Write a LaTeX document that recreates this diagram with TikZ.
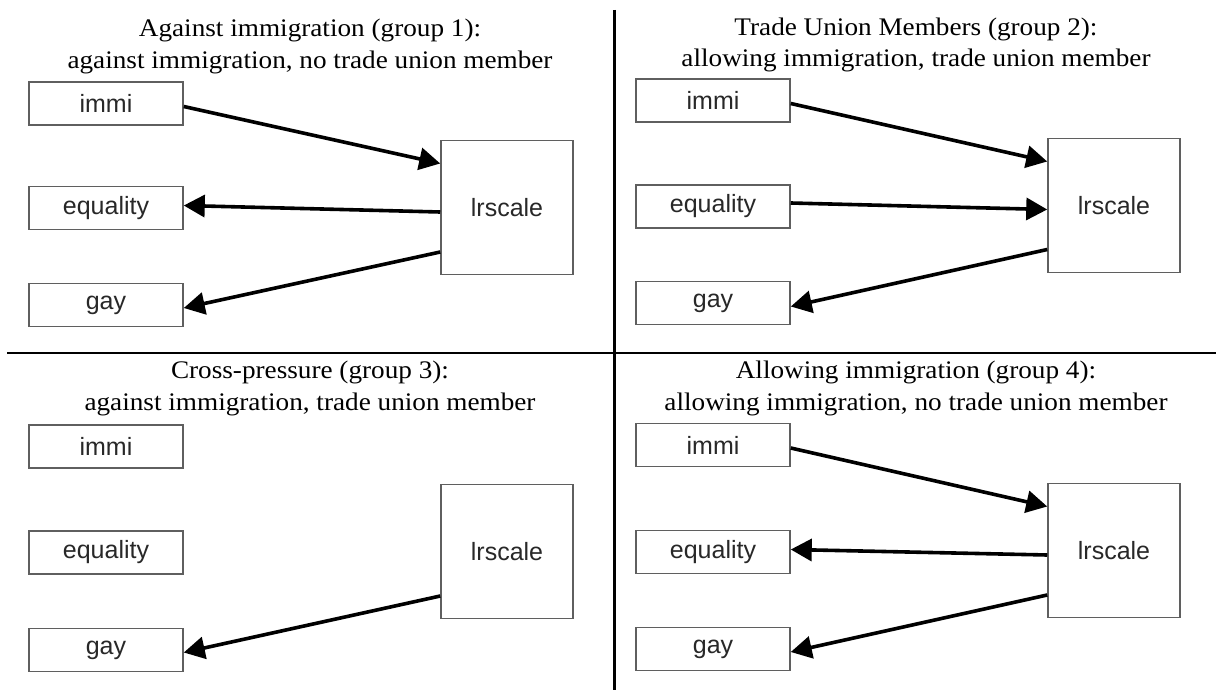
\documentclass[tikz,border=0pt]{standalone}
\usepackage{fontspec}
\setmainfont{Liberation Serif}
\newfontfamily\arialfont{Liberation Sans}
\usetikzlibrary{arrows.meta}
\definecolor{boxline}{RGB}{95,95,95}
\definecolor{boxtext}{RGB}{40,40,40}
\tikzset{
  vbox/.style={draw=boxline, line width=1.5pt, fill=white, minimum width=154pt, minimum height=43pt, inner sep=0pt, font=\arialfont\fontsize{25}{28}\selectfont, text=boxtext},
  lrbox/.style={draw=boxline, line width=1.5pt, fill=white, minimum width=132pt, minimum height=134pt, inner sep=0pt, font=\arialfont\fontsize{25}{28}\selectfont, text=boxtext},
  ttl/.style={anchor=base, inner sep=0pt, xscale=1.075, transform shape, font=\fontsize{25.3}{30}\selectfont},
  arr/.style={line width=3.6pt, -{Triangle[length=21pt,width=22pt]}},
  divider/.style={line width=2.4pt, black}
}
\begin{document}
\begin{tikzpicture}[x=1pt,y=-1pt]
\useasboundingbox (0,0) rectangle (1216,690);
% dividers
\coordinate (vtop) at (614.5,10);
\coordinate (vbot) at (614.5,690);
\coordinate (hl) at (7,352.7);
\coordinate (hr) at (1216,352.7);
\draw[divider] (vtop) -- (vbot);
\draw[divider] (hl) -- (hr);

% ---------- panel 1 (top left)
\node[ttl] (t1a) at (310,36.7) {Against immigration (group 1):};
\node[ttl] (t1b) at (310,68.5) {against immigration, no trade union member};
\node[vbox] (immi1) at (106,103.5) {immi};
\node[vbox] (eq1) at (106,208) {equality};
\node[vbox] (gay1) at (106,305) {gay};
\node[lrbox] (lr1) at (507,207.5) {lrscale};
\draw[arr] ([yshift=-3pt]immi1.east) -- ([yshift=44pt]lr1.west);
\draw[arr] ([yshift=-4.5pt]lr1.west) -- ([yshift=2.5pt]eq1.east);
\draw[arr] ([yshift=-44.5pt]lr1.west) -- ([yshift=-3pt]gay1.east);

% ---------- panel 2 (top right)
\node[ttl] (t2a) at (916,35.5) {Trade Union Members (group 2):};
\node[ttl] (t2b) at (916,67) {allowing immigration, trade union member};
\node[vbox] (immi2) at (713,100.5) {immi};
\node[vbox] (eq2) at (713,206.5) {equality};
\node[vbox] (gay2) at (713,303) {gay};
\node[lrbox] (lr2) at (1114,205.5) {lrscale};
\draw[arr] ([yshift=-3pt]immi2.east) -- ([yshift=44pt]lr2.west);
\draw[arr] ([yshift=3.5pt]eq2.east) -- ([yshift=-4pt]lr2.west);
\draw[arr] ([yshift=-44pt]lr2.west) -- ([yshift=-3.5pt]gay2.east);

% ---------- panel 3 (bottom left)
\node[ttl] (t3a) at (310,378) {Cross-pressure (group 3):};
\node[ttl] (t3b) at (310,410) {against immigration, trade union member};
\node[vbox] (immi3) at (106,446.5) {immi};
\node[vbox] (eq3) at (106,552.5) {equality};
\node[vbox] (gay3) at (106,650) {gay};
\node[lrbox] (lr3) at (507,551.5) {lrscale};
\draw[arr] ([yshift=-44.5pt]lr3.west) -- ([yshift=-2.5pt]gay3.east);

% ---------- panel 4 (bottom right)
\node[ttl] (t4a) at (916,378) {Allowing immigration (group 4):};
\node[ttl] (t4b) at (916,410) {allowing immigration, no trade union member};
\node[vbox] (immi4) at (713,445) {immi};
\node[vbox] (eq4) at (713,552) {equality};
\node[vbox] (gay4) at (713,649) {gay};
\node[lrbox] (lr4) at (1114,550.5) {lrscale};
\draw[arr] ([yshift=-3pt]immi4.east) -- ([yshift=44pt]lr4.west);
\draw[arr] ([yshift=-4.5pt]lr4.west) -- ([yshift=2.5pt]eq4.east);
\draw[arr] ([yshift=-44.5pt]lr4.west) -- ([yshift=-3pt]gay4.east);
\end{tikzpicture}
\end{document}
